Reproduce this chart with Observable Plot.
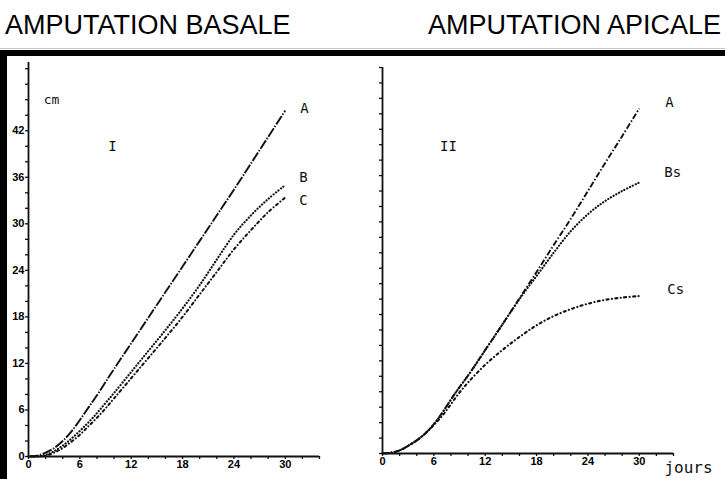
<!DOCTYPE html>
<html>
<head>
<meta charset="utf-8">
<script src="https://cdn.jsdelivr.net/npm/d3@7"></script>
<script src="https://cdn.jsdelivr.net/npm/@observablehq/plot@0.6"></script>
<style>
  html, body { margin: 0; padding: 0; background: #fff; }
  #page { width: 725px; height: 479px; position: relative; overflow: hidden; }
  #head { height: 48px; border-bottom: 1px solid #c8c8c8; position: relative; }
  .title { position: absolute; top: 10px; font-family: "Liberation Sans", Arial, sans-serif; font-size: 27px; color: #000; white-space: nowrap; }
  #fig { margin-top: 1px; border-top: 6px solid #000; border-left: 7px solid #000; height: 423px; display: flex; }
  #fig svg { display: block; }
  #fig svg [aria-label$="tick label"] text, #fig svg [aria-label$="tick label"] { font-weight: 900; font-size: 11px; fill: #000; }
</style>
</head>
<body>
<div id="page">
  <div id="head">
    <div class="title" style="left:5px">AMPUTATION BASALE</div>
    <div class="title" style="left:428px">AMPUTATION APICALE</div>
  </div>
  <div id="fig"><div id="p1"></div><div id="p2"></div></div>
</div>
<script>
// ---- data ----
const days = [0, 1, 2, 3, 4, 5, 6, 7, 8, 9, 10, 12, 14, 16, 18, 20, 22, 24, 26, 28, 30];

// Panel I : amputation basale
const basaleA = [0, 0.1, 0.5, 1.1, 2.0, 3.2, 4.7, 6.3, 7.9, 9.6, 11.3, 14.6, 17.9, 21.2, 24.5, 27.8, 31.1, 34.4, 37.8, 41.2, 44.6];
const basaleB = [0, 0, 0.2, 0.7, 1.4, 2.3, 3.3, 4.4, 5.6, 6.9, 8.2, 10.9, 13.6, 16.3, 19.1, 22.1, 25.4, 28.6, 31.1, 33.2, 35.0];
const basaleC = [0, 0, 0.1, 0.5, 1.1, 1.9, 2.8, 3.9, 5.0, 6.2, 7.5, 10.1, 12.7, 15.3, 18.0, 20.9, 23.8, 26.7, 29.2, 31.5, 33.4];

// Panel II : amputation apicale
const apicaleA  = [0, 0.1, 0.4, 1.0, 1.7, 2.6, 3.8, 5.3, 7.0, 8.6, 10.1, 13.4, 16.7, 20.1, 23.5, 27.0, 30.4, 34.0, 37.6, 41.1, 44.7];
const apicaleBs = [0, 0.1, 0.4, 1.0, 1.7, 2.6, 3.8, 5.3, 7.0, 8.6, 10.1, 13.4, 16.7, 20.0, 23.0, 26.0, 28.8, 31.0, 32.7, 34.0, 35.1];
const apicaleCs = [0, 0.1, 0.4, 1.0, 1.7, 2.6, 3.7, 4.9, 6.4, 7.9, 9.2, 11.5, 13.4, 15.1, 16.6, 17.8, 18.7, 19.4, 19.9, 20.2, 20.4];

const seriesNames1 = ["A", "B", "C"];
const seriesNames2 = ["A", "Bs", "Cs"];
const panelLabels = ["I", "II"];
const yUnit = "cm";
const xUnit = "jours";

const xTicks = d3.range(0, 35, 2);
const xTickLabels = [0, 6, 12, 18, 24, 30];
const yTicks = d3.range(0, 51, 2);
const yTickLabels = [0, 6, 12, 18, 24, 30, 36, 42];

// ---- build tables ----
function table(name, values) {
  return days.map((d, i) => ({series: name, day: d, cm: values[i]}));
}
const p1 = [table("A", basaleA), table("B", basaleB), table("C", basaleC)];
const p2 = [table("A", apicaleA), table("Bs", apicaleBs), table("Cs", apicaleCs)];

const mono = "'DejaVu Sans Mono', monospace";
const tickFont = "'Liberation Sans', Arial, sans-serif";

function styles(panel) {
  if (panel === 1) return [
    {strokeDasharray: "10,1.5,1.5,1.5", strokeWidth: 1.9, strokeLinecap: "butt"},
    {strokeDasharray: "0.1,3", strokeWidth: 2.2, strokeLinecap: "round"},
    {strokeDasharray: "0.1,3.2,2.2,3.2", strokeWidth: 2, strokeLinecap: "round"}
  ];
  return [
    {strokeDasharray: "6,2,1.5,2", strokeWidth: 1.9, strokeLinecap: "butt"},
    {strokeDasharray: "0.1,3", strokeWidth: 2.2, strokeLinecap: "round"},
    {strokeDasharray: "0.1,3.4,2,3.4", strokeWidth: 2.1, strokeLinecap: "round"}
  ];
}

function panel({data, names, width, marginLeft, marginRight, marginTop, marginBottom, ymax, showYLabels, labelOffsets, extra}) {
  const st = styles(showYLabels ? 1 : 2);
  const marks = [
    Plot.axisX({ticks: xTicks, tickFormat: d => xTickLabels.includes(d) ? d : "", tickSize: 3, tickPadding: 1,
      label: null, stroke: "#111", strokeWidth: 1.3}),
    Plot.axisY({ticks: yTicks, tickFormat: d => (showYLabels && yTickLabels.includes(d)) ? d : "", tickSize: 3, tickPadding: 1,
      label: null, stroke: "#111", strokeWidth: 1.3}),
    Plot.ruleX([0], {stroke: "#111", strokeWidth: 1.8}),
    Plot.ruleY([0], {stroke: "#111", strokeWidth: 1.8})
  ];
  data.forEach((d, i) => {
    marks.push(Plot.line(d, {x: "day", y: "cm", curve: "catmull-rom", stroke: "#111", ...st[i]}));
    marks.push(Plot.text(d.slice(-1), {x: "day", y: "cm", text: () => names[i], textAnchor: "start",
      dx: labelOffsets[i][0], dy: labelOffsets[i][1], fontFamily: mono, fontSize: 14, fontWeight: "normal", fill: "#111"}));
  });
  marks.push(...extra);
  return Plot.plot({
    width, height: 423, marginLeft, marginRight, marginTop, marginBottom,
    x: {domain: [0, 34]},
    y: {domain: [0, ymax]},
    style: {background: "transparent", color: "#111", overflow: "visible", fontFamily: tickFont, fontSize: "11px"},
    marks
  });
}

const chart1 = panel({
  data: p1, names: seriesNames1, width: 347,
  marginLeft: 21, marginRight: 35, marginTop: 6, marginBottom: 23, ymax: 50.8, showYLabels: true,
  labelOffsets: [[15, -2], [14, -8], [14, 3]],
  extra: [
    Plot.text([yUnit], {frameAnchor: "top-left", dx: 23, dy: 32, textAnchor: "middle", fontFamily: mono, fontSize: 13, fill: "#111"}),
    Plot.text([panelLabels[0]], {frameAnchor: "top-left", dx: 84, dy: 79, textAnchor: "middle", fontFamily: mono, fontSize: 14, fill: "#111"})
  ]
});

const chart2 = panel({
  data: p2, names: seriesNames2, width: 371,
  marginLeft: 28, marginRight: 52, marginTop: 11, marginBottom: 26, ymax: 50, showYLabels: false,
  labelOffsets: [[26, -6], [25, -10], [28, -6]],
  extra: [
    Plot.text([panelLabels[1]], {frameAnchor: "top-left", dx: 66, dy: 74, textAnchor: "middle", fontFamily: mono, fontSize: 14, fill: "#111"}),
    Plot.text([xUnit], {frameAnchor: "bottom-right", dx: 15, dy: 19, textAnchor: "middle", fontFamily: mono, fontSize: 16, fill: "#111"})
  ]
});

document.getElementById("p1").appendChild(chart1);
document.getElementById("p2").appendChild(chart2);
</script>
</body>
</html>
